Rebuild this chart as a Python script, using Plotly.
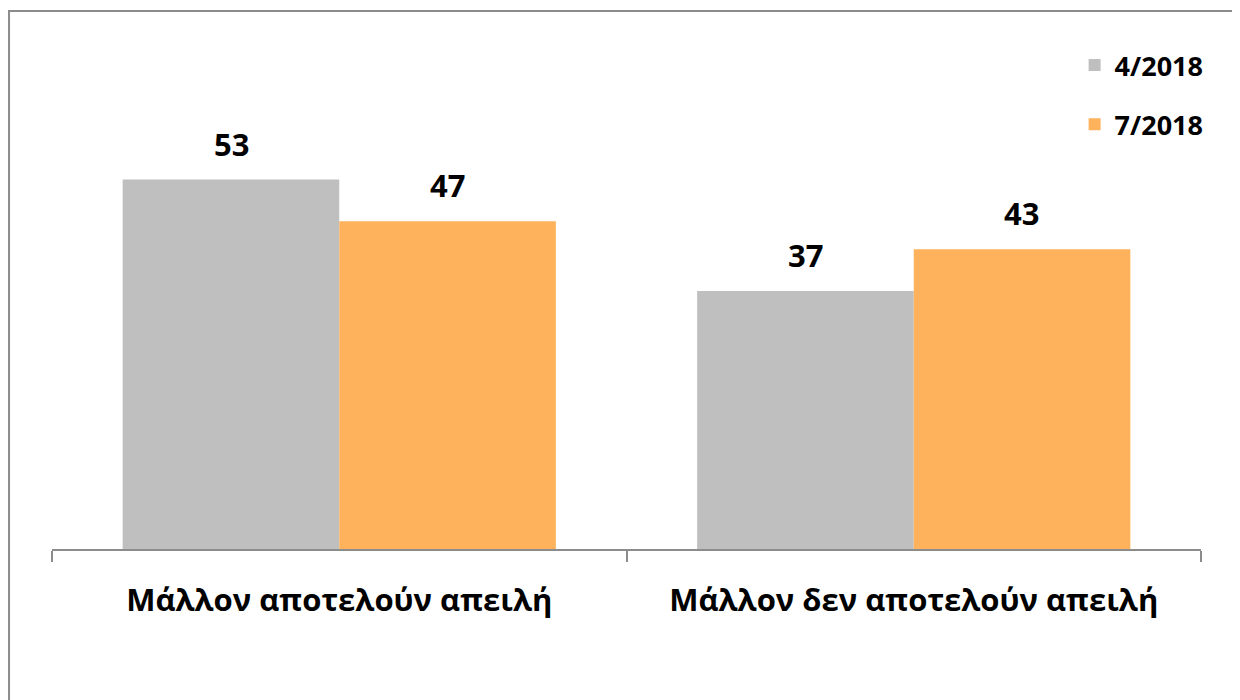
import plotly.graph_objects as go

categories = ["Μάλλον αποτελούν απειλή", "Μάλλον δεν αποτελούν απειλή"]
series_names = ["4/2018", "7/2018"]
values_apr = [53, 37]
values_jul = [47, 43]
colors = ["#BFBFBF", "#FFB25C"]

FONT = "Open Sans, Noto Sans, DejaVu Sans, sans-serif"

fig = go.Figure()
for name, vals, col in zip(series_names, [values_apr, values_jul], colors):
    fig.add_trace(go.Bar(
        x=categories, y=vals, name=f"<b>{name}</b>", legendgroup=name,
        marker=dict(color=col, line=dict(width=0)),
        hoverinfo="skip",
    ))

annotations = []
for shift, vals in zip([-108, 108], [values_apr, values_jul]):
    for c, v in zip(categories, vals):
        annotations.append(dict(
            x=c, y=v, xref="x", yref="y", text=f"<b>{v}</b>", showarrow=False,
            xshift=shift, yshift=13, yanchor="bottom",
            font=dict(family=FONT, size=31, color="#000000"),
        ))

fig.update_layout(
    width=1240, height=700, autosize=False,
    margin=dict(l=44, r=47, t=53, b=159),
    paper_bgcolor="white", plot_bgcolor="white",
    barmode="group", bargap=0.246, bargroupgap=0,
    font=dict(family=FONT, color="#000000"),
    showlegend=True,
    legend=dict(
        x=0.890, y=1.041, xanchor="left", yanchor="top",
        font=dict(family=FONT, size=27, color="#000000"),
        traceorder="grouped", tracegroupgap=21,
        itemwidth=30, bgcolor="rgba(0,0,0,0)",
    ),
    annotations=annotations,
    shapes=[dict(
        type="rect", xref="paper", yref="paper",
        x0=-0.0374, x1=1.06, y0=-0.4, y1=1.1025,
        line=dict(color="#8C8C8C", width=2), fillcolor="rgba(0,0,0,0)", layer="below",
    )],
)
fig.update_xaxes(
    showline=True, linecolor="#8C8C8C", linewidth=2,
    ticks="outside", ticklen=11, tickcolor="#8C8C8C", tickwidth=2,
    tickson="boundaries", showgrid=False,
    tickfont=dict(family=FONT, size=31, color="#000000"),
    tickprefix="<b>", ticksuffix="</b>",
    ticklabelstandoff=23,
)
fig.update_yaxes(range=[0, 70], visible=False, showgrid=False, zeroline=False)

fig.write_html("out.html")
